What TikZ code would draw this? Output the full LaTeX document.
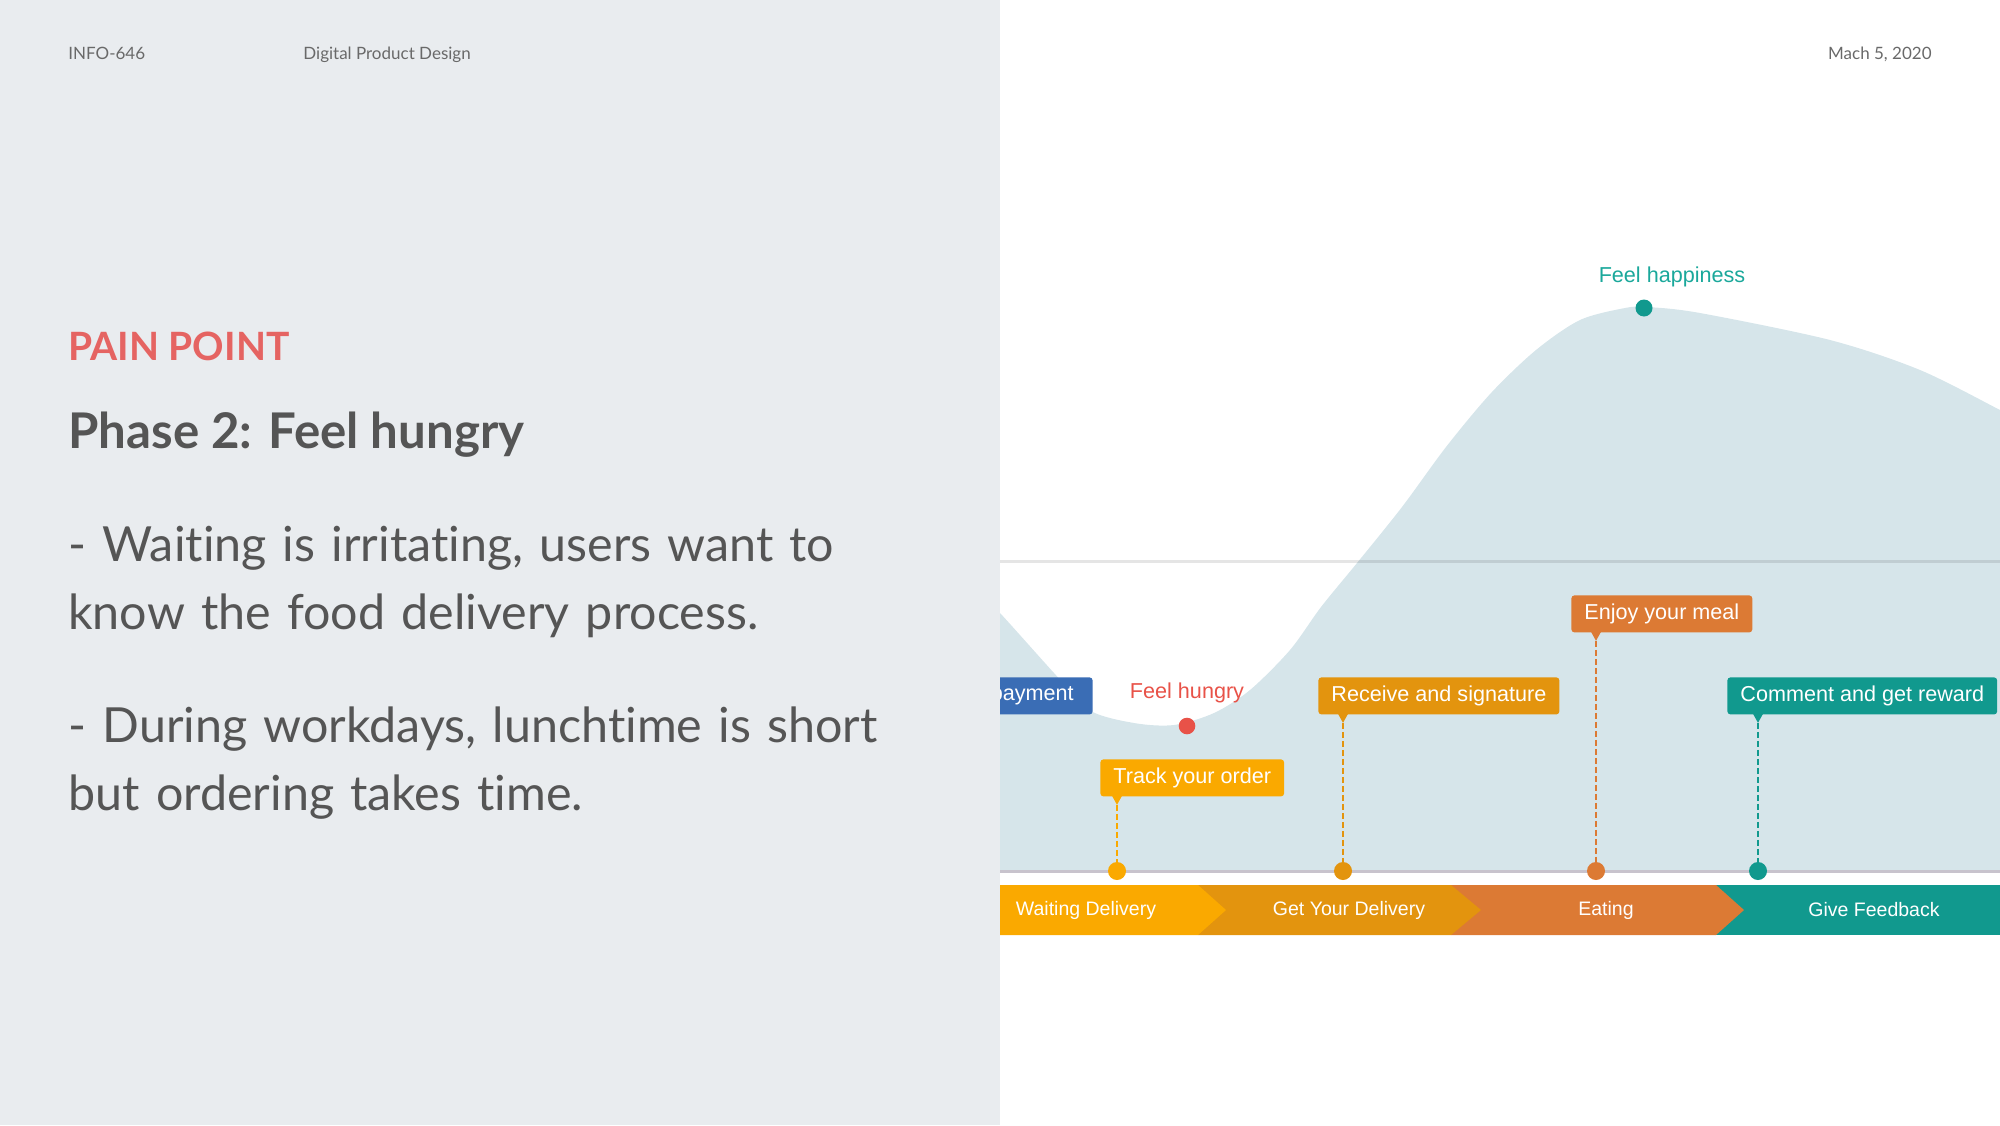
\documentclass[tikz,border=0pt]{standalone}
\usepackage{fontspec}
\setmainfont{Lato}[Ligatures=NoCommon]
\newfontfamily\chartfont{Liberation Sans}
\usetikzlibrary{calc}
\definecolor{panel}{RGB}{233,236,239}
\definecolor{ink}{RGB}{85,85,85}
\definecolor{headink}{RGB}{105,105,105}
\definecolor{painred}{RGB}{229,100,98}
\definecolor{sky}{RGB}{214,229,234}
\definecolor{axis}{RGB}{200,195,205}
\definecolor{wait}{RGB}{250,169,0}
\definecolor{get}{RGB}{227,148,14}
\definecolor{eat}{RGB}{220,122,52}
\definecolor{feedback}{RGB}{17,153,142}
\definecolor{pay}{RGB}{58,109,181}
\definecolor{hungry}{RGB}{232,82,72}
\definecolor{happy}{RGB}{26,168,155}

\begin{document}
\begin{tikzpicture}[x=0.5pt,y=-0.5pt,
  head/.style={inner sep=0pt,text=headink,font=\fontsize{8.5}{10}\selectfont},
  para/.style={anchor=base west,inner sep=0pt,text width=480pt,align=left,text=ink,font=\fontsize{24.2}{34}\selectfont},
  tag/.style={anchor=north west,rounded corners=1.5pt,text=white,font=\chartfont\fontsize{10.8}{12}\selectfont,minimum height=18.5pt,inner xsep=6.5pt,inner ysep=0pt},
  stage/.style={text=white,font=\chartfont\fontsize{9.75}{11}\selectfont},
  dot/.style={circle,inner sep=0pt,minimum size=9pt},
  link/.style={dash pattern=on 3pt off 1.5pt,line width=1pt}]
\useasboundingbox (0,0) rectangle (2000,1125);
\fill[panel] (0,0) rectangle (1000,1125);
% header
\node[head,anchor=base west] (course) at (68,59) {INFO-646};
\node[head,anchor=base west] (subject) at (303,59) {Digital Product Design};
\node[head,anchor=base east] (date) at (1932,59) {Mach 5, 2020};
% left panel
\node[anchor=base west,inner sep=0pt,text=painred,font=\bfseries\fontsize{19.5}{22}\selectfont] (pain) at (68,360) {PAIN POINT};
\node[anchor=base west,inner sep=0pt,text=ink,font=\bfseries\fontsize{24.6}{28}\selectfont] (phase) at (68,448) {Phase 2: Feel hungry};
\node[para] (first) at (68,561) {- Waiting is irritating, users want to\\know the food delivery process.};
\node[para] (second) at (68,742) {- During workdays, lunchtime is short\\but ordering takes time.};
% journey chart
\begin{scope}
\clip (1000,0) rectangle (2000,1125);
\fill[sky] plot[smooth,tension=0.5] coordinates {(985,600) (1000,613) (1054,673) (1089,710) (1134,723) (1174,725) (1214,713) (1250,690) (1290,650) (1321,607) (1357,563) (1402,507) (1446,447) (1491,393) (1536,350) (1580,320) (1625,308) (1647,307) (1700,313) (1830,340) (1920,370) (2000,410) (2015,418)}
  -- (2015,871) -- (985,871) -- cycle;
\draw[line width=1.5pt,black,opacity=0.1] (1000,561) -- (2000,561);
\coordinate (base) at (1000,871);
\draw[line width=1.5pt,axis] (base) -- (2000,871);
% stages
\fill[feedback] (1716,885) rectangle (2000,935);
\fill[eat] (1451,885) -- (1716,885) -- (1744,910) -- (1716,935) -- (1451,935) -- cycle;
\fill[get] (1198,885) -- (1451,885) -- (1481,910) -- (1451,935) -- (1198,935) -- cycle;
\fill[wait] (990,885) -- (1198,885) -- (1226,910) -- (1198,935) -- (990,935) -- cycle;
\node[stage] (s1) at (1086,910) {Waiting Delivery};
\node[stage] (s2) at (1349,910) {Get Your Delivery};
\node[stage] (s3) at (1606,910) {Eating};
\node[stage] (s4) at (1874,910) {Give Feedback};
% moments
\node[tag,fill=pay,anchor=north east,inner xsep=9.5pt] (payment) at (1093,677) {payment};
\node[tag,fill=wait] (track) at (1100,759) {Track your order};
\node[tag,fill=get] (receive) at (1318,677) {Receive and signature};
\node[tag,fill=eat] (enjoy) at (1571,595) {Enjoy your meal};
\node[tag,fill=feedback] (comment) at (1727,677) {Comment and get reward};
\foreach \t/\dx/\c in {track/17/wait,receive/25/get,enjoy/25/eat,comment/31/feedback}{
  \fill[\c] ($(\t.south west)+(\dx-5,-1)$) -- ++(10,0) -- ++(-5,9) -- cycle;
  \coordinate (\t tip) at ($(\t.south west)+(\dx,8)$);
  \draw[link,\c] (\t tip) -- (\t tip |- base) node[dot,fill=\c] (\t dot) {};
}
\node[dot,minimum size=8.3pt,fill=hungry] (low) at (1187,726) {};
\node[font=\chartfont\fontsize{10.8}{12}\selectfont,text=hungry] (hungrytext) at (1187,693) {Feel hungry};
\node[dot,minimum size=8.5pt,fill=feedback] (peak) at (1644,308) {};
\node[font=\chartfont\fontsize{10.8}{12}\selectfont,text=happy] (happytext) at (1672,277) {Feel happiness};
\end{scope}
\end{tikzpicture}
\end{document}
